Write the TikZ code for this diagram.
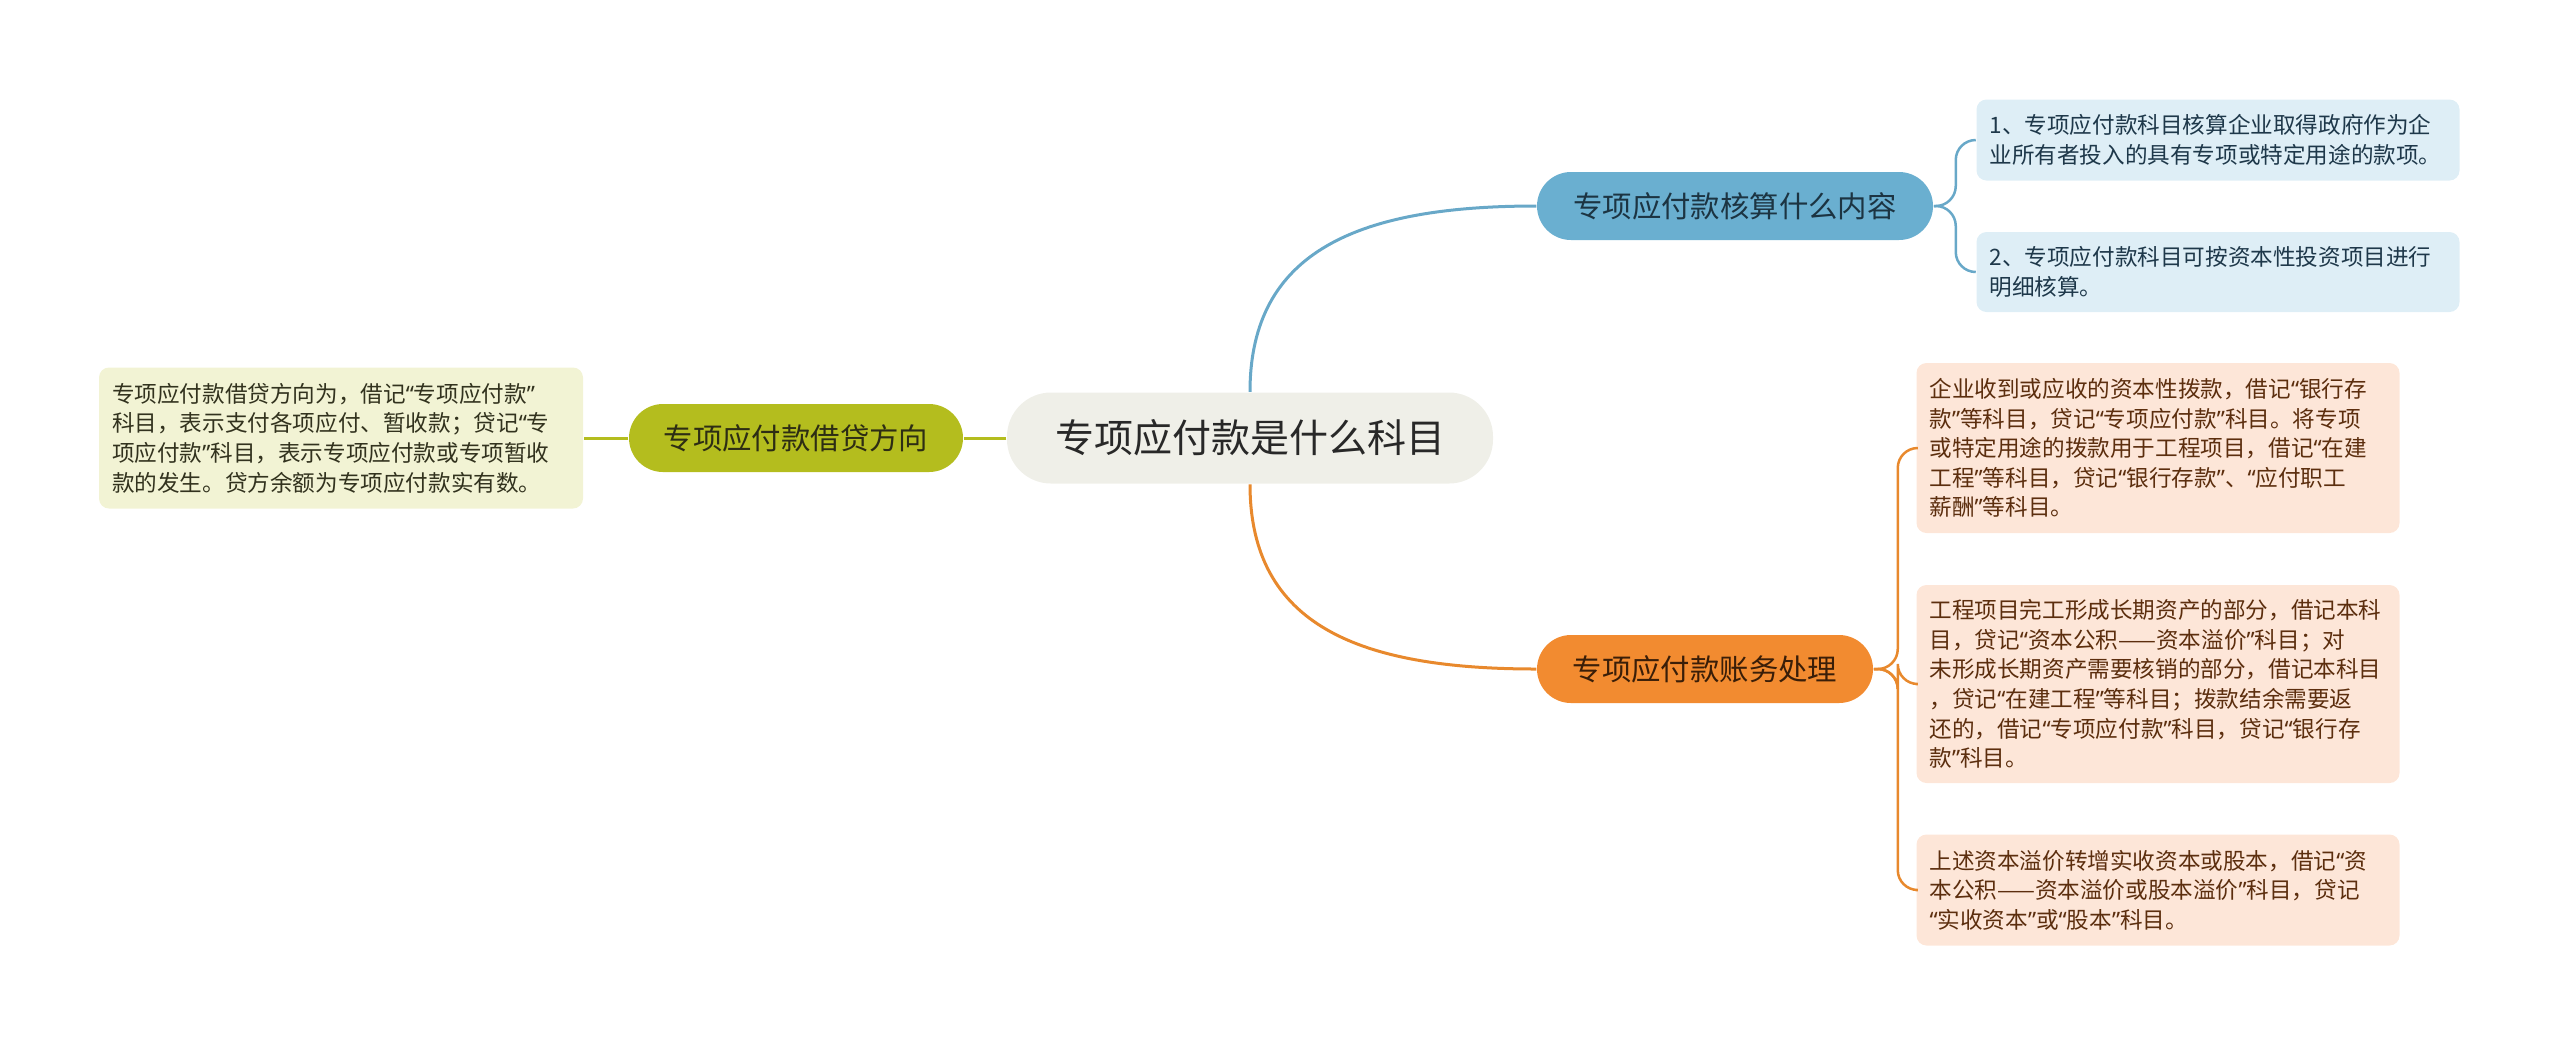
\documentclass[tikz,border=0pt]{standalone}
\usepackage{fontspec}
\setmainfont{Noto Sans CJK SC}
\newfontfamily\quotefont{Noto Sans}
\newcommand{\oq}{{\quotefont “}}
\newcommand{\cq}{{\quotefont ”}}
\tikzset{every picture/.style={line width=0.75pt}}

\definecolor{rootFill}{RGB}{239,239,232}
\definecolor{rootText}{RGB}{40,40,40}
\definecolor{blueTopic}{RGB}{106,175,208}
\definecolor{blueText}{RGB}{28,52,66}
\definecolor{blueLeaf}{RGB}{222,238,246}
\definecolor{blueLeafText}{RGB}{30,56,74}
\definecolor{blueLine}{RGB}{104,168,200}
\definecolor{orangeTopic}{RGB}{242,139,48}
\definecolor{orangeText}{RGB}{58,30,8}
\definecolor{orangeLeaf}{RGB}{253,230,216}
\definecolor{orangeLeafText}{RGB}{92,46,14}
\definecolor{orangeLine}{RGB}{232,137,45}
\definecolor{greenTopic}{RGB}{180,189,30}
\definecolor{greenText}{RGB}{45,45,20}
\definecolor{greenLeaf}{RGB}{242,243,212}
\definecolor{greenLeafText}{RGB}{50,50,30}
\definecolor{greenLine}{RGB}{180,189,30}

\tikzset{
  rootnode/.style={fill=rootFill, text=rootText, rounded corners=22pt, minimum width=243pt, minimum height=45.5pt, inner sep=0pt, font=\fontsize{19.5}{23}\selectfont},
  topicnode/.style={rounded corners=17pt, minimum height=34pt, inner sep=0pt, font=\fontsize{14.7}{18}\selectfont},
  leafnode/.style={rounded corners=5pt, text width=228.5pt, align=left, inner xsep=6.5pt, inner ysep=0pt, font=\fontsize{11.3}{14.8}\selectfont},
  branch/.style={line width=1.5pt},
  twig/.style={line width=1.25pt, rounded corners=10pt},
}

\begin{document}
\begin{tikzpicture}[x=0.5pt,y=0.5pt,yscale=-1,xscale=1]
\useasboundingbox (0,0) rectangle (2560,1046);

% Central Topic
\node [rootnode] (root) at (1250,438) {专项应付款是什么科目};

% Main Topics
\node [topicnode, fill=blueTopic, text=blueText, minimum width=198pt] (calc) at (1735,206) {专项应付款核算什么内容};
\node [topicnode, fill=orangeTopic, text=orangeText, minimum width=168pt] (acct) at (1705,669) {专项应付款账务处理};
\node [topicnode, fill=greenTopic, text=greenText, minimum width=167pt] (dir) at (796,438) {专项应付款借贷方向};

% Text Node
\node [leafnode, fill=blueLeaf, text=blueLeafText, minimum height=40.5pt] (calcA) at (2218,140) {1、专项应付款科目核算企业取得政府作为企\\业所有者投入的具有专项或特定用途的款项。};
% Text Node
\node [leafnode, fill=blueLeaf, text=blueLeafText, minimum height=40pt] (calcB) at (2218,272) {2、专项应付款科目可按资本性投资项目进行\\明细核算。};
% Text Node
\node [leafnode, fill=orangeLeaf, text=orangeLeafText, minimum height=85pt] (acctA) at (2158,448) {企业收到或应收的资本性拨款，借记\oq 银行存\\款\cq 等科目，贷记\oq 专项应付款\cq 科目。将专项\\或特定用途的拨款用于工程项目，借记\oq 在建\\工程\cq 等科目，贷记\oq 银行存款\cq 、\oq 应付职工\\薪酬\cq 等科目。};
% Text Node
\node [leafnode, fill=orangeLeaf, text=orangeLeafText, minimum height=99pt] (acctB) at (2158,684) {工程项目完工形成长期资产的部分，借记本科\\目，贷记\oq 资本公积——资本溢价\cq 科目；对\\未形成长期资产需要核销的部分，借记本科目\\，贷记\oq 在建工程\cq 等科目；拨款结余需要返\\还的，借记\oq 专项应付款\cq 科目，贷记\oq 银行存\\款\cq 科目。};
% Text Node
\node [leafnode, fill=orangeLeaf, text=orangeLeafText, minimum height=55.5pt] (acctC) at (2158,890) {上述资本溢价转增实收资本或股本，借记\oq 资\\本公积——资本溢价或股本溢价\cq 科目，贷记\\\oq 实收资本\cq 或\oq 股本\cq 科目。};
% Text Node
\node [leafnode, fill=greenLeaf, text=greenLeafText, text width=229pt, minimum height=70.5pt] (dirA) at (341,438) {专项应付款借贷方向为，借记\oq 专项应付款\cq\\科目，表示支付各项应付、暂收款；贷记\oq 专\\项应付款\cq 科目，表示专项应付款或专项暂收\\款的发生。贷方余额为专项应付款实有数。};

% Branches
\draw [branch, blueLine] (root.north) .. controls (1250,250) and (1360,206) .. (calc.west);
\draw [branch, orangeLine] (root.south) .. controls (1250,626) and (1360,669) .. (acct.west);
\draw [branch, greenLine] (root.west) -- (dir.east);
\draw [branch, greenLine] (dir.west) -- (dirA.east);

% Brackets
\draw [twig, blueLine] (calc.east) -- ++(22,0) |- (calcA.west);
\draw [twig, blueLine] (calc.east) -- ++(22,0) |- (calcB.west);
\draw [twig, orangeLine] (acct.east) -- ++(24,0) |- (acctA.west);
\draw [twig, orangeLine] (acct.east) -- ++(24,0) |- (acctB.west);
\draw [twig, orangeLine] (acct.east) -- ++(24,0) |- (acctC.west);

\end{tikzpicture}
\end{document}
